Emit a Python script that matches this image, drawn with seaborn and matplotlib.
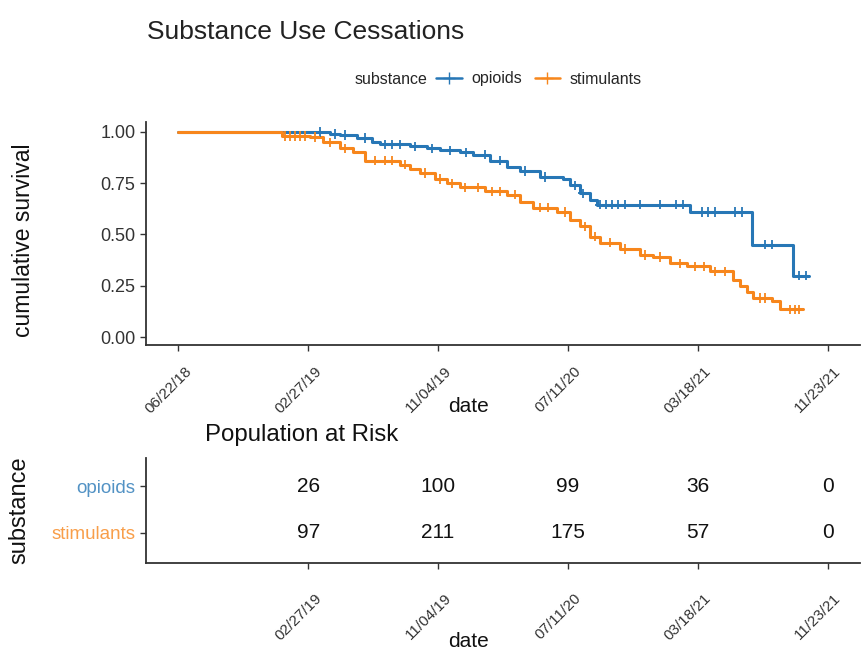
import numpy as np
import pandas as pd
import matplotlib
matplotlib.use("Agg")
import matplotlib.pyplot as plt
import matplotlib.dates as mdates
import matplotlib.transforms as mtransforms
from matplotlib.lines import Line2D
import seaborn as sns

# --- data (days since first observation, Kaplan-Meier step values) ---
start_date = "2018-06-22"
followup_end_days = 1250

opioid_step_days = [0, 292, 312, 344, 373, 388, 446, 479, 504, 542,
                    567, 600, 633, 658, 696, 740, 754, 773, 792, 806,
                    985, 1104, 1183, 1215]
opioid_step_surv = [1.00, 0.99, 0.985, 0.97, 0.95, 0.94, 0.93, 0.92, 0.91, 0.90,
                    0.89, 0.86, 0.83, 0.81, 0.78, 0.77, 0.74, 0.70, 0.67, 0.645,
                    0.61, 0.45, 0.30, 0.30]
opioid_censor_days = [273, 302, 321, 360, 398, 412, 427, 456, 488, 523, 554, 590,
                      619, 667, 706, 763, 779, 812, 823, 835, 846, 860, 888, 927,
                      958, 971, 1008, 1019, 1033, 1071, 1085, 1129, 1144, 1196, 1208]

stim_step_days = [0, 200, 254, 279, 312, 337, 360, 427, 446, 465,
                  494, 517, 542, 590, 633, 658, 683, 729, 754, 773,
                  792, 812, 850, 888, 913, 946, 979, 1023, 1067, 1081,
                  1094, 1106, 1144, 1158, 1202]
stim_step_surv = [1.00, 0.98, 0.975, 0.95, 0.92, 0.90, 0.86, 0.84, 0.82, 0.80,
                  0.77, 0.75, 0.73, 0.71, 0.695, 0.66, 0.63, 0.61, 0.57, 0.54,
                  0.49, 0.46, 0.43, 0.40, 0.39, 0.36, 0.345, 0.32, 0.28, 0.25,
                  0.22, 0.19, 0.175, 0.135, 0.135]
stim_censor_days = [206, 215, 225, 235, 244, 263, 292, 321, 379, 398, 412, 437,
                    475, 504, 527, 552, 577, 604, 619, 648, 696, 712, 744, 783,
                    802, 831, 860, 898, 927, 965, 994, 1013, 1033, 1052, 1119,
                    1129, 1177, 1187, 1196]

risk_dates = ["2019-02-27", "2019-11-04", "2020-07-11", "2021-03-18", "2021-11-23"]
risk_opioids = [26, 100, 99, 36, 0]
risk_stimulants = [97, 211, 175, 57, 0]

groups = ["opioids", "stimulants"]
palette = {"opioids": "#2777b6", "stimulants": "#f7861c"}

# --- build frames ---
t0 = pd.Timestamp(start_date)

def steps_frame(days, surv, name):
    return pd.DataFrame({"date": t0 + pd.to_timedelta(days, unit="D"),
                         "surv": surv, "substance": name})

def censor_frame(cdays, days, surv, name):
    idx = np.searchsorted(days, cdays, side="right") - 1
    return pd.DataFrame({"date": t0 + pd.to_timedelta(cdays, unit="D"),
                         "surv": np.array(surv)[idx], "substance": name})

steps = pd.concat([steps_frame(opioid_step_days, opioid_step_surv, "opioids"),
                   steps_frame(stim_step_days, stim_step_surv, "stimulants")])
cens = pd.concat([censor_frame(opioid_censor_days, opioid_step_days, opioid_step_surv, "opioids"),
                  censor_frame(stim_censor_days, stim_step_days, stim_step_surv, "stimulants")])

sns.set_theme(style="ticks")
plt.rcParams["font.family"] = ["Liberation Sans", "DejaVu Sans"]

fig = plt.figure(figsize=(8.67, 6.62), dpi=100)
ax = fig.add_axes([0.1684, 0.4788, 0.8235, 0.3369])
ax2 = fig.add_axes([0.1684, 0.1495, 0.8235, 0.1586])

sns.lineplot(data=steps, x="date", y="surv", hue="substance", palette=palette,
             drawstyle="steps-post", estimator=None, sort=False, linewidth=2.2,
             legend=False, ax=ax)
sns.scatterplot(data=cens, x="date", y="surv", hue="substance", palette=palette,
                marker="+", s=45, linewidth=1.3, legend=False, ax=ax, zorder=3)

xmin = t0 - pd.Timedelta(days=followup_end_days * 0.05)
xmax = t0 + pd.Timedelta(days=followup_end_days * 1.05)
top_ticks = pd.date_range(start_date, periods=6, freq="250D")

ax.set_xlim(xmin, xmax)
ax.set_ylim(-0.039, 1.0485)
ax.set_yticks([0, 0.25, 0.5, 0.75, 1.0])
ax.set_yticklabels(["0.00", "0.25", "0.50", "0.75", "1.00"])
ax.set_xticks(top_ticks)
ax.xaxis.set_major_formatter(mdates.DateFormatter("%m/%d/%y"))
ax.set_xlabel("date", fontsize=15, color="#111111")
ax.xaxis.set_label_coords(0.451, -0.235)
ax.set_ylabel("cumulative survival", fontsize=16.5, color="#111111")
ax.yaxis.set_label_coords(-0.155, 0.47)

# risk table
for d, a, b in zip(risk_dates, risk_opioids, risk_stimulants):
    x = mdates.date2num(pd.Timestamp(d))
    ax2.text(x, 0, str(a), ha="center", va="center", fontsize=15, color="#111111")
    ax2.text(x, 1, str(b), ha="center", va="center", fontsize=15, color="#111111")
ax2.set_xlim(xmin, xmax)
ax2.set_ylim(1.65, -0.61)
ax2.set_yticks([0, 1])
ax2.set_yticklabels(groups)
for lab, g in zip(ax2.get_yticklabels(), groups):
    lab.set_color(palette[g])
    lab.set_alpha(0.8)
ax2.set_xticks(pd.to_datetime(risk_dates))
ax2.xaxis.set_major_formatter(mdates.DateFormatter("%m/%d/%y"))
ax2.set_xlabel("date", fontsize=15, color="#111111")
ax2.xaxis.set_label_coords(0.451, -0.66)
ax2.set_ylabel("substance", fontsize=17, color="#111111")
ax2.yaxis.set_label_coords(-0.162, 0.5)

shift = mtransforms.ScaledTranslation(0.06, 0, fig.dpi_scale_trans)
for a, pad in ((ax, 9.5), (ax2, 16)):
    sns.despine(ax=a)
    for s in ("left", "bottom"):
        a.spines[s].set_linewidth(1.3)
        a.spines[s].set_color("#333333")
    a.tick_params(axis="both", length=4, width=1.0, color="#333333")
    a.tick_params(axis="x", pad=pad)
    for lab in a.get_xticklabels():
        lab.set_rotation(45)
        lab.set_ha("right")
        lab.set_va("top")
        lab.set_rotation_mode("anchor")
        lab.set_fontsize(11)
        lab.set_color("#333333")
        lab.set_transform(lab.get_transform() + shift)
ax.tick_params(axis="y", labelsize=13, labelcolor="#333333")
ax2.tick_params(axis="y", labelsize=13.5)

# titles and legend
fig.text(147 / 867, 1 - 32 / 662, "Substance Use Cessations", fontsize=19,
         va="center", ha="left", color="#222222")
fig.text(205 / 867, 1 - 435 / 662, "Population at Risk", fontsize=17.3,
         va="center", ha="left", color="#111111")
fig.text(355 / 867, 1 - 79 / 662, "substance", fontsize=11.5, va="center", ha="left")
handles = [Line2D([], [], color=palette[g], marker="+", markersize=8, linewidth=1.8)
           for g in groups]
fig.legend(handles, groups, loc="center left", bbox_to_anchor=(436 / 867, 1 - 79 / 662),
           ncol=2, frameon=False, fontsize=11.5, handlelength=1.6, handletextpad=0.6,
           columnspacing=0.8, borderaxespad=0, borderpad=0)

fig.savefig("out.png", dpi=100)
